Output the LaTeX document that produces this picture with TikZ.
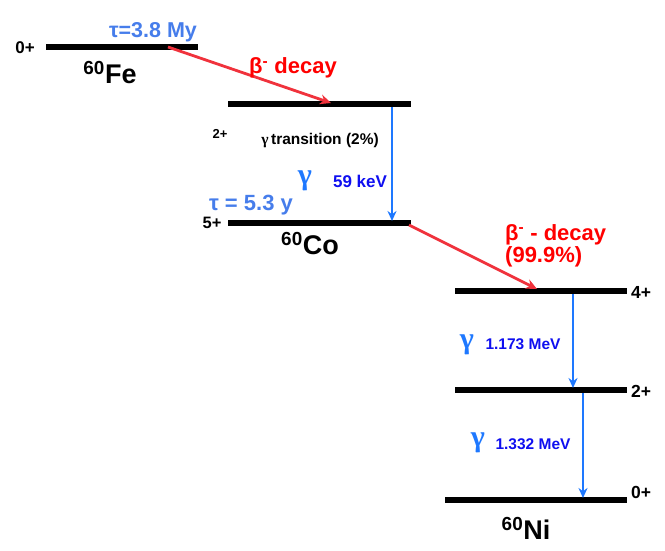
\documentclass[tikz,border=0pt]{standalone}
\usepackage{fontspec}
\setmainfont{Liberation Sans}
\newfontfamily\gfont{Liberation Serif}
\usetikzlibrary{arrows.meta}
\definecolor{tblue}{RGB}{70,125,235}
\definecolor{ablue}{RGB}{30,120,255}
\definecolor{dblue}{RGB}{15,15,240}
\definecolor{tred}{RGB}{255,0,0}
\definecolor{ared}{RGB}{240,50,60}
\tikzset{
  level/.style={line width=5.5pt, black},
  gam/.style={ablue, line width=2.8pt, -{Stealth[length=10pt,width=9pt]}},
  bet/.style={ared, line width=2.8pt, -{Stealth[length=11pt,width=10pt]}},
  lab/.style={font=\bfseries\fontsize{#1}{#1}\selectfont, inner sep=0pt},
}
\begin{document}
\begin{tikzpicture}[x=1pt,y=-1pt]
\useasboundingbox (0,0) rectangle (665,551);
% levels
\coordinate (fe1) at (46,47); \coordinate (fe2) at (198,47);
\coordinate (co21) at (228,104); \coordinate (co22) at (411,104);
\coordinate (co51) at (228,223); \coordinate (co52) at (411,223);
\coordinate (ni41) at (455,291); \coordinate (ni42) at (627,291);
\coordinate (ni21) at (455,390); \coordinate (ni22) at (627,390);
\coordinate (ni01) at (445,500); \coordinate (ni02) at (627,500);
\draw[level] (fe1) -- (fe2);
\draw[level] (co21) -- (co22);
\draw[level] (co51) -- (co52);
\draw[level] (ni41) -- (ni42);
\draw[level] (ni21) -- (ni22);
\draw[level] (ni01) -- (ni02);
% arrows
\coordinate (b1s) at (168,47); \coordinate (b1e) at (331,103);
\draw[bet] (b1s) -- (b1e);
\coordinate (g1s) at (392,107); \coordinate (g1e) at (392,221);
\draw[gam] (g1s) -- (g1e);
\coordinate (b2s) at (409,225); \coordinate (b2e) at (537,289);
\draw[bet] (b2s) -- (b2e);
\coordinate (g2s) at (573,294); \coordinate (g2e) at (573,388);
\draw[gam] (g2s) -- (g2e);
\coordinate (g3s) at (583,393); \coordinate (g3e) at (583,498);
\draw[gam] (g3s) -- (g3e);
% labels
\node[lab=17] (s0) at (25,48) {0+};
\node[lab=21.5, text=tblue] (tfe) at (153,32) {τ=3.8 My};
\node[lab=27] (fe) at (110,73) {\textsuperscript{60}Fe};
\node[lab=22, text=tred] (bd1) at (293,68) {β\textsuperscript{-} decay};
\node[lab=13] (s2) at (220,134) {2+};
\node[lab=15.5] (gt) at (320,141) {{\gfont γ}\,transition (2\%)};
\node[lab=30, text=ablue] (gg1) at (305,181) {\gfont γ};
\node[lab=17] [text=dblue] (kev) at (360,181) {59 keV};
\node[lab=22, text=tblue] (tco) at (251,205) {τ = 5.3 y};
\node[lab=16.5] (s5) at (212,223) {5+};
\node[lab=27] (co) at (310,244) {\textsuperscript{60}Co};
\node[lab=22, text=tred, align=left, anchor=north west] (bd2) at (505,224) {β\textsuperscript{-} - decay\\[0pt](99.9\%)};
\node[lab=17.5] (s4) at (641,292) {4+};
\node[lab=17.5] (s2b) at (641,391) {2+};
\node[lab=17.5] (s0b) at (641,492) {0+};
\node[lab=30, text=ablue] (gg2) at (467,345) {\gfont γ};
\node[lab=15.5, text=dblue] (m1) at (523,344) {1.173 MeV};
\node[lab=30, text=ablue] (gg3) at (478,443) {\gfont γ};
\node[lab=15.5, text=dblue] (m2) at (533,444) {1.332 MeV};
\node[lab=27] (ni) at (526,528) {\textsuperscript{60}Ni};
\end{tikzpicture}
\end{document}
